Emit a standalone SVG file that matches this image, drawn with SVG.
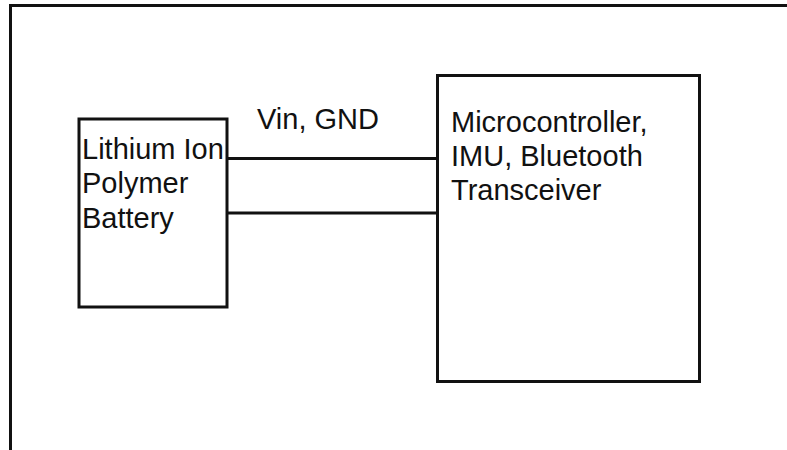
<svg xmlns="http://www.w3.org/2000/svg" width="787" height="450" viewBox="0 0 787 450">
<style>
.box{fill:#fff;stroke:#111;stroke-width:3}
.wire{stroke:#111;stroke-width:3;fill:none}
.frame{stroke:#111;stroke-width:3;fill:none}
text{font-family:"Liberation Sans",Arial,sans-serif;font-size:29px;fill:#111}
</style>
<rect width="787" height="450" fill="#fff"/>
<path class="frame" d="M10.5,450 V5.5 H787"/>
<g id="connectors">
<line class="wire" x1="227" y1="158.5" x2="438" y2="158.5"/>
<line class="wire" x1="227" y1="213" x2="438" y2="213"/>
</g>
<text x="257" y="129">Vin, GND</text>
<g id="battery">
<rect class="box" x="79" y="119" width="148" height="188"/>
<text x="82" y="159">Lithium Ion</text>
<text x="82" y="193">Polymer</text>
<text x="82" y="228">Battery</text>
</g>
<g id="mcu">
<rect class="box" x="437.5" y="75.5" width="262" height="306"/>
<text x="451" y="132">Microcontroller,</text>
<text x="451" y="166">IMU, Bluetooth</text>
<text x="451" y="200">Transceiver</text>
</g>
</svg>
